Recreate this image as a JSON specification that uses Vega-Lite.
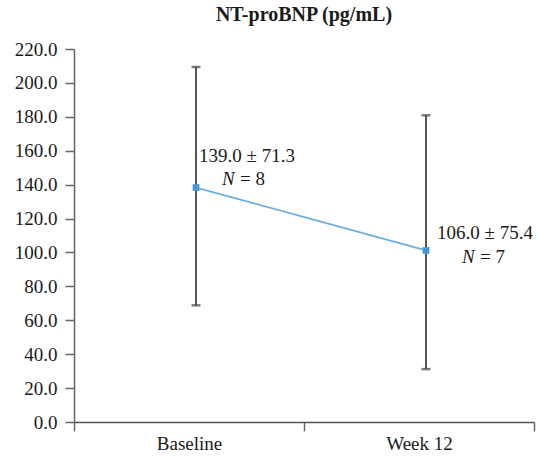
{
  "$schema": "https://vega.github.io/schema/vega-lite/v6.json",
  "width": 460,
  "height": 373,
  "autosize": {"type": "none"},
  "padding": {"left": 74, "top": 49, "right": 4, "bottom": 34},
  "background": "white",
  "title": {
    "text": "NT-proBNP (pg/mL)",
    "font": "Liberation Serif",
    "fontSize": 20,
    "fontWeight": "bold",
    "color": "#1a1a1a",
    "anchor": "middle",
    "offset": 15
  },
  "config": {
    "view": {"stroke": null},
    "axis": {
      "labelFont": "Liberation Serif",
      "labelFontSize": 19,
      "labelColor": "#1a1a1a",
      "labelOverlap": false,
      "domainColor": "#666666",
      "domainWidth": 1.5,
      "tickColor": "#666666",
      "tickWidth": 1.5,
      "grid": false,
      "title": null
    },
    "axisY": {
      "values": [0, 20, 40, 60, 80, 100, 120, 140, 160, 180, 200, 220],
      "format": ".1f",
      "tickSize": 9,
      "labelPadding": 8
    },
    "scale": {"zero": true}
  },
  "data": {
    "values": [
      {"time": "Baseline", "mean": 138.3, "lo": 68.8, "hi": 209.4, "stat": "139.0 ± 71.3", "nsym": "N", "nval": "= 8"},
      {"time": "Week 12", "mean": 101.2, "lo": 31.2, "hi": 180.9, "stat": "106.0 ± 75.4", "nsym": "N", "nval": "= 7"}
    ]
  },
  "encoding": {
    "x": {
      "field": "time",
      "type": "nominal",
      "sort": null,
      "scale": {"paddingInner": 0, "paddingOuter": 0},
      "axis": {"labelAngle": 0, "tickBand": "extent", "tickSize": 9, "labelPadding": 3, "domainColor": "#555555"}
    }
  },
  "layer": [
    {
      "mark": {"type": "rule", "color": "#555555", "strokeWidth": 2, "xOffset": 7},
      "encoding": {
        "y": {"field": "lo", "type": "quantitative", "scale": {"domain": [0, 220]}},
        "y2": {"field": "hi"}
      }
    },
    {
      "mark": {"type": "tick", "orient": "horizontal", "color": "#444444", "size": 9, "thickness": 2.5, "xOffset": 7},
      "encoding": {"y": {"field": "lo", "type": "quantitative", "scale": {"domain": [0, 220]}}}
    },
    {
      "mark": {"type": "tick", "orient": "horizontal", "color": "#444444", "size": 9, "thickness": 2.5, "xOffset": 7},
      "encoding": {"y": {"field": "hi", "type": "quantitative", "scale": {"domain": [0, 220]}}}
    },
    {
      "mark": {"type": "line", "color": "#6aaee2", "strokeWidth": 1.8, "xOffset": 7},
      "encoding": {"y": {"field": "mean", "type": "quantitative", "scale": {"domain": [0, 220]}}}
    },
    {
      "mark": {"type": "square", "color": "#4a94d8", "opacity": 1, "size": 45, "xOffset": 7},
      "encoding": {"y": {"field": "mean", "type": "quantitative", "scale": {"domain": [0, 220]}}}
    },
    {
      "transform": [{"filter": "datum.time === 'Baseline'"}],
      "layer": [
        {"mark": {"type": "text", "font": "Liberation Serif", "fontSize": 19, "color": "#1a1a1a", "align": "left", "dx": 10, "dy": -32},
         "encoding": {"y": {"field": "mean", "type": "quantitative"}, "text": {"field": "stat"}}},
        {"mark": {"type": "text", "font": "Liberation Serif", "fontSize": 19, "fontStyle": "italic", "color": "#1a1a1a", "align": "left", "dx": 33, "dy": -9},
         "encoding": {"y": {"field": "mean", "type": "quantitative"}, "text": {"field": "nsym"}}},
        {"mark": {"type": "text", "font": "Liberation Serif", "fontSize": 19, "color": "#1a1a1a", "align": "left", "dx": 51, "dy": -9},
         "encoding": {"y": {"field": "mean", "type": "quantitative"}, "text": {"field": "nval"}}}
      ]
    },
    {
      "transform": [{"filter": "datum.time === 'Week 12'"}],
      "layer": [
        {"mark": {"type": "text", "font": "Liberation Serif", "fontSize": 19, "color": "#1a1a1a", "align": "left", "dx": 18, "dy": -17},
         "encoding": {"y": {"field": "mean", "type": "quantitative"}, "text": {"field": "stat"}}},
        {"mark": {"type": "text", "font": "Liberation Serif", "fontSize": 19, "fontStyle": "italic", "color": "#1a1a1a", "align": "left", "dx": 43, "dy": 7},
         "encoding": {"y": {"field": "mean", "type": "quantitative"}, "text": {"field": "nsym"}}},
        {"mark": {"type": "text", "font": "Liberation Serif", "fontSize": 19, "color": "#1a1a1a", "align": "left", "dx": 61, "dy": 7},
         "encoding": {"y": {"field": "mean", "type": "quantitative"}, "text": {"field": "nval"}}}
      ]
    }
  ]
}
